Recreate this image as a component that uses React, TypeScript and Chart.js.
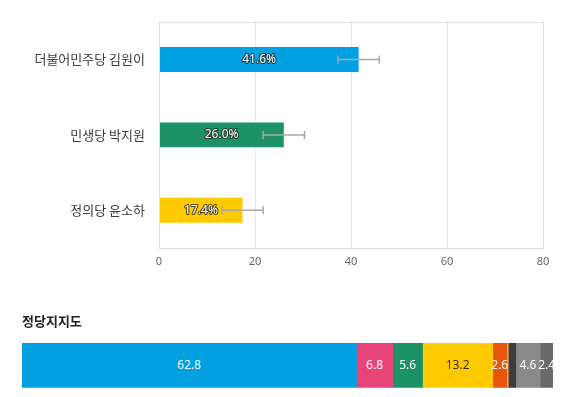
import React, { useEffect, useRef } from "react";
import { Chart, registerables } from "chart.js";

Chart.register(...registerables);

// ---- Top chart data ----
const candidates = ["더불어민주당 김원이", "민생당 박지원", "정의당 윤소하"];
const candidateValues = [41.6, 26.0, 17.4];
const errorMargins = [4.3, 4.3, 4.3];
const candidateColors = ["#00a0e2", "#1b9366", "#ffcb00"];
const xMin = 0;
const xMax = 80;
const xStep = 20;

// ---- Bottom chart data ----
const chartTitle = "정당지지도";
const parties = ["더불어민주당", "미래통합당", "민생당", "정의당", "민중당", "기타1", "국민의당", "기타 정당", "없음/모름"];
const partyValues = [62.8, 6.8, 5.6, 13.2, 2.6, 0.3, 1.4, 4.6, 2.4];
const partyLabels = ["62.8", "6.8", "5.6", "13.2", "2.6", "", "", "4.6", "2.4"];
const partyColors = ["#00a0e2", "#e8447a", "#1b9366", "#ffcb00", "#e8560a", "#f7a35c", "#3c3c3c", "#8a8a8a", "#6a6a6a"];
const partyLabelColors = ["#ffffff", "#ffffff", "#ffffff", "#333333", "#ffffff", "#ffffff", "#ffffff", "#ffffff", "#ffffff"];

const KR = "'Noto Sans CJK KR', 'Noto Sans', sans-serif";
const NUM = "'Noto Sans', 'Open Sans', sans-serif";

const framePlugin = {
  id: "frame",
  afterDatasetsDraw(chart: any) {
    const { ctx, chartArea } = chart;
    ctx.save();
    ctx.strokeStyle = "#dedede";
    ctx.lineWidth = 1;
    ctx.strokeRect(
      Math.round(chartArea.left) + 0.5,
      Math.round(chartArea.top) + 0.5,
      Math.round(chartArea.right - chartArea.left),
      Math.round(chartArea.bottom - chartArea.top)
    );
    ctx.restore();
  },
};

const errorBarPlugin = {
  id: "errorBars",
  afterDatasetsDraw(chart: any) {
    const meta = chart.getDatasetMeta(0);
    const xs = chart.scales.x;
    const ctx = chart.ctx;
    ctx.save();
    ctx.strokeStyle = "#a8a8a8";
    ctx.lineWidth = 1.5;
    meta.data.forEach((bar: any, i: number) => {
      const v = candidateValues[i];
      const e = errorMargins[i];
      const x1 = xs.getPixelForValue(v - e);
      const x2 = xs.getPixelForValue(v + e);
      const y = bar.y;
      ctx.beginPath();
      ctx.moveTo(x1, y);
      ctx.lineTo(x2, y);
      ctx.moveTo(x1, y - 4);
      ctx.lineTo(x1, y + 4);
      ctx.moveTo(x2, y - 4);
      ctx.lineTo(x2, y + 4);
      ctx.stroke();
    });
    ctx.restore();
  },
};

const topLabelPlugin = {
  id: "topLabels",
  afterDatasetsDraw(chart: any) {
    const meta = chart.getDatasetMeta(0);
    const ctx = chart.ctx;
    ctx.save();
    ctx.font = `12px ${NUM}`;
    ctx.textAlign = "center";
    ctx.textBaseline = "middle";
    ctx.lineJoin = "round";
    meta.data.forEach((bar: any, i: number) => {
      const txt = candidateValues[i].toFixed(1) + "%";
      const cx = (bar.x + bar.base) / 2;
      ctx.strokeStyle = "rgba(40,40,40,0.8)";
      ctx.lineWidth = 2.2;
      ctx.strokeText(txt, cx, bar.y);
      ctx.fillStyle = "#ffffff";
      ctx.fillText(txt, cx, bar.y);
    });
    ctx.restore();
  },
};

const stackLabelPlugin = {
  id: "stackLabels",
  afterDatasetsDraw(chart: any) {
    const ctx = chart.ctx;
    ctx.save();
    ctx.font = `12px ${NUM}`;
    ctx.textAlign = "center";
    ctx.textBaseline = "middle";
    chart.data.datasets.forEach((ds: any, di: number) => {
      const meta = chart.getDatasetMeta(di);
      meta.data.forEach((bar: any) => {
        const txt = partyLabels[di];
        if (!txt) return;
        ctx.fillStyle = partyLabelColors[di];
        ctx.fillText(txt, (bar.x + bar.base) / 2, bar.y);
      });
    });
    ctx.restore();
  },
};

function TopChart() {
  const ref = useRef<HTMLCanvasElement | null>(null);
  useEffect(() => {
    if (!ref.current) return;
    const chart = new Chart(ref.current, {
      type: "bar",
      data: {
        labels: candidates,
        datasets: [
          {
            label: "지지율",
            data: candidateValues,
            backgroundColor: candidateColors,
            borderWidth: 0,
            barPercentage: 0.33,
            categoryPercentage: 1,
          },
        ],
      },
      options: {
        indexAxis: "y",
        responsive: false,
        animation: false,
        events: [],
        layout: { padding: { top: 11, right: 37, left: 0, bottom: 0 } },
        plugins: { legend: { display: false }, tooltip: { enabled: false }, title: { display: false } },
        scales: {
          x: {
            min: xMin,
            max: xMax,
            ticks: { stepSize: xStep, color: "#666", font: { size: 11, family: NUM }, padding: 7 },
            grid: { color: "#e6e6ee", drawTicks: false },
            border: { display: false },
            afterFit: (scale: any) => {
              scale.height = 32;
            },
          },
          y: {
            ticks: { color: "#3a3a3a", font: { size: 13, family: KR }, padding: 14 },
            grid: { display: false, drawTicks: false },
            border: { display: false },
            afterFit: (scale: any) => {
              scale.width = 159;
            },
          },
        },
      },
      plugins: [framePlugin, errorBarPlugin, topLabelPlugin],
    } as any);
    return () => chart.destroy();
  }, []);
  return <canvas ref={ref} width={580} height={280} style={{ position: "absolute", left: 0, top: 0 }} />;
}

function BottomChart() {
  const ref = useRef<HTMLCanvasElement | null>(null);
  useEffect(() => {
    if (!ref.current) return;
    const total = partyValues.reduce((a, b) => a + b, 0);
    const chart = new Chart(ref.current, {
      type: "bar",
      data: {
        labels: [""],
        datasets: parties.map((p, i) => ({
          label: p,
          data: [partyValues[i]],
          backgroundColor: partyColors[i],
          borderWidth: 0,
          barThickness: 44,
        })),
      },
      options: {
        indexAxis: "y",
        responsive: false,
        animation: false,
        events: [],
        layout: { padding: { top: 0, right: 27, left: 22, bottom: 9 } },
        plugins: {
          legend: { display: false },
          tooltip: { enabled: false },
          title: {
            display: true,
            text: chartTitle,
            align: "start",
            color: "#222",
            font: { size: 13, weight: "bold", family: KR },
            padding: { top: 13, bottom: 14 },
          },
        },
        scales: {
          x: { stacked: true, min: 0, max: total, display: false },
          y: { stacked: true, display: false },
        },
      },
      plugins: [stackLabelPlugin],
    } as any);
    return () => chart.destroy();
  }, []);
  return <canvas ref={ref} width={580} height={97} style={{ position: "absolute", left: 0, top: 300 }} />;
}

export default function App() {
  return (
    <div style={{ position: "fixed", left: 0, top: 0, width: 580, height: 397, background: "#fff", overflow: "hidden" }}>
      <TopChart />
      <BottomChart />
    </div>
  );
}
